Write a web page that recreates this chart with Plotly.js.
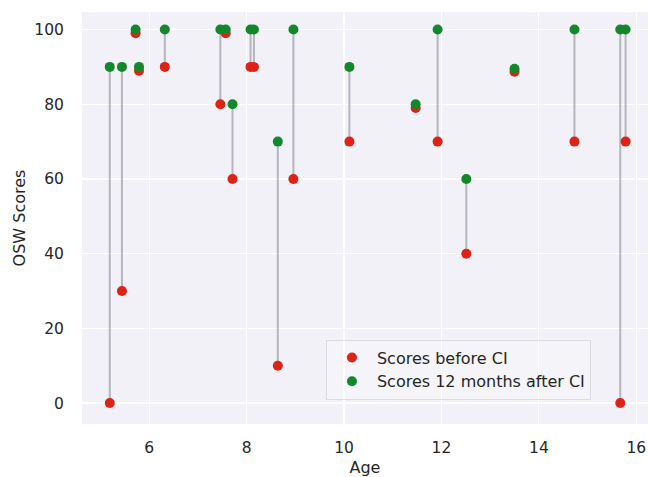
<!DOCTYPE html>
<html>
<head>
<meta charset="utf-8">
<script src="https://cdn.plot.ly/plotly-3.0.1.min.js"></script>
<style>html,body{margin:0;padding:0;background:#fff;}#chart{width:649px;height:477px;}</style>
</head>
<body>
<div id="chart"></div>
<script>
const ages        = [5.19, 5.44, 5.72, 5.79, 6.32, 7.46, 7.57, 7.71, 8.08, 8.15, 8.64, 8.96, 10.11, 11.47, 11.92, 12.51, 13.50, 14.73, 15.67, 15.78];
const scoresBefore = [0,   30,   99,   89,   90,   80,   99,   60,   90,   90,   10,   60,   70,    79,    70,    40,    88.7,  70,    0,     70];
const scoresAfter  = [90,  90,   100,  90,   100,  100,  100,  80,   100,  100,  70,   100,  90,    80,    100,   60,    89.5,  100,   100,   100];
const xTicks = [6, 8, 10, 12, 14, 16];
const yTicks = [0, 20, 40, 60, 80, 100];

const lx = [], ly = [];
ages.forEach((a, i) => { lx.push(a, a, null); ly.push(scoresBefore[i], scoresAfter[i], null); });

const FAM = 'DejaVu Sans, sans-serif';
const TXT = '#262626';

const traces = [
  {x: lx, y: ly, mode: 'lines', type: 'scatter', line: {color: 'rgba(160,160,170,0.75)', width: 2}, showlegend: false, hoverinfo: 'skip'},
  {x: ages, y: scoresBefore, mode: 'markers', type: 'scatter', name: 'Scores before CI', marker: {color: '#dd2216', size: 10}},
  {x: ages, y: scoresAfter, mode: 'markers', type: 'scatter', name: 'Scores 12 months after CI', marker: {color: '#13872a', size: 10}}
];

const layout = {
  width: 649, height: 477,
  margin: {l: 82, r: 1, t: 12, b: 53},
  paper_bgcolor: '#ffffff',
  plot_bgcolor: '#f1f1f7',
  font: {family: FAM, size: 15, color: TXT},
  xaxis: {
    range: [4.62, 16.24], tickvals: xTicks, ticktext: xTicks.map(String),
    showgrid: true, gridcolor: '#ffffff', gridwidth: 1.2, zeroline: false, showline: false,
    ticks: 'outside', ticklen: 9, tickcolor: 'rgba(0,0,0,0)',
    tickfont: {family: FAM, size: 15.5, color: TXT},
    title: {text: 'Age', font: {family: FAM, size: 16, color: TXT}, standoff: 7}
  },
  yaxis: {
    range: [-5.6, 104.7], tickvals: yTicks, ticktext: yTicks.map(String),
    showgrid: true, gridcolor: '#ffffff', gridwidth: 1.2, zeroline: false, showline: false,
    ticks: 'outside', ticklen: 14, tickcolor: 'rgba(0,0,0,0)',
    tickfont: {family: FAM, size: 15.5, color: TXT},
    title: {text: 'OSW Scores', font: {family: FAM, size: 16, color: TXT}, standoff: 4}
  },
  legend: {
    x: 0.431, y: 0.205, xanchor: 'left', yanchor: 'top',
    bgcolor: 'rgba(255,255,255,0.3)', bordercolor: '#dcdce0', borderwidth: 1,
    font: {family: FAM, size: 16, color: TXT},
    itemwidth: 40, tracegroupgap: 0
  },
  showlegend: true
};

Plotly.newPlot('chart', traces, layout, {displayModeBar: false, staticPlot: true});
</script>
</body>
</html>
